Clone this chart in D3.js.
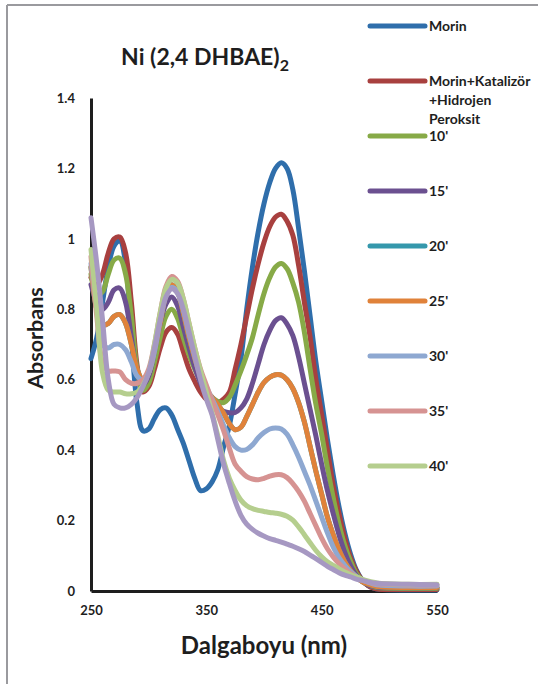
<!DOCTYPE html>
<html><head><meta charset="utf-8">
<script src="https://cdn.jsdelivr.net/npm/d3@7"></script>
<style>
body{margin:0;background:#fff;}
svg{display:block;font-family:Lato,"Open Sans",sans-serif;}
</style>
</head><body>
<svg id="chart" width="538" height="684"></svg>
<script>
const wavelengths=[250,255,260,265,270,275,280,285,290,295,300,305,310,315,320,325,330,335,340,345,350,355,360,365,370,375,380,385,390,395,400,405,410,415,420,425,430,435,440,445,450,455,460,465,470,475,480,485,490,495,500,525,550];

const morin=[0.66,0.72,0.82,0.92,0.98,0.995,0.93,0.72,0.53,0.455,
0.46,0.49,0.515,0.52,0.50,0.46,0.42,0.37,0.32,0.285,
0.29,0.31,0.345,0.41,0.47,0.56,0.66,0.80,0.92,1.02,
1.10,1.16,1.20,1.216,1.20,1.14,1.03,0.91,0.78,0.65,
0.54,0.43,0.33,0.24,0.165,0.105,0.06,0.032,0.016,0.008,
0.005,0.003,0.003];

const morinKatHP=[0.89,0.87,0.90,0.96,1.0,1.005,0.96,0.82,0.64,0.565,
0.58,0.63,0.69,0.735,0.748,0.73,0.68,0.63,0.595,0.565,
0.545,0.537,0.534,0.545,0.565,0.63,0.70,0.78,0.86,0.93,
0.99,1.035,1.062,1.07,1.05,1.01,0.925,0.82,0.72,0.60,
0.50,0.40,0.30,0.22,0.15,0.095,0.057,0.031,0.016,0.008,
0.005,0.004,0.004];

const min10=[0.90,0.84,0.85,0.90,0.94,0.945,0.90,0.78,0.63,0.57,
0.59,0.65,0.72,0.78,0.80,0.775,0.72,0.67,0.63,0.595,
0.565,0.55,0.538,0.535,0.55,0.585,0.625,0.67,0.72,0.785,
0.845,0.89,0.92,0.93,0.915,0.875,0.82,0.735,0.63,0.53,
0.445,0.35,0.265,0.19,0.13,0.085,0.05,0.03,0.018,0.012,
0.009,0.007,0.007];

const min15=[0.87,0.82,0.80,0.82,0.855,0.86,0.82,0.72,0.62,0.585,
0.61,0.68,0.76,0.815,0.835,0.81,0.75,0.69,0.635,0.59,
0.555,0.53,0.52,0.51,0.506,0.507,0.52,0.545,0.59,0.645,
0.70,0.74,0.768,0.776,0.758,0.725,0.665,0.59,0.515,0.44,
0.36,0.285,0.22,0.16,0.11,0.072,0.045,0.028,0.018,0.013,
0.01,0.009,0.009];

const min20=[0.92,0.80,0.755,0.76,0.78,0.785,0.76,0.70,0.63,0.60,
0.62,0.68,0.76,0.84,0.87,0.85,0.79,0.72,0.66,0.61,
0.57,0.55,0.53,0.505,0.475,0.458,0.465,0.495,0.53,0.565,
0.592,0.607,0.614,0.613,0.60,0.575,0.535,0.48,0.41,0.34,
0.275,0.21,0.16,0.117,0.083,0.058,0.04,0.027,0.02,0.015,
0.012,0.01,0.01];

const min25=[0.92,0.80,0.755,0.76,0.78,0.785,0.76,0.70,0.63,0.60,
0.62,0.68,0.76,0.84,0.87,0.85,0.79,0.72,0.66,0.61,
0.57,0.55,0.53,0.505,0.475,0.458,0.465,0.495,0.53,0.565,
0.592,0.607,0.614,0.613,0.60,0.575,0.535,0.48,0.41,0.34,
0.275,0.21,0.16,0.117,0.083,0.058,0.04,0.027,0.02,0.015,
0.012,0.01,0.01];

const min30=[0.93,0.80,0.70,0.69,0.70,0.70,0.685,0.65,0.61,0.60,
0.62,0.68,0.77,0.84,0.862,0.85,0.80,0.73,0.67,0.62,
0.58,0.545,0.51,0.47,0.435,0.41,0.40,0.402,0.415,0.435,
0.45,0.46,0.463,0.46,0.445,0.415,0.38,0.34,0.30,0.255,
0.21,0.165,0.125,0.095,0.073,0.055,0.042,0.032,0.025,0.02,
0.017,0.014,0.014];

const min35=[0.95,0.78,0.65,0.625,0.625,0.622,0.60,0.59,0.59,0.60,
0.63,0.70,0.79,0.865,0.893,0.88,0.83,0.76,0.69,0.63,
0.585,0.54,0.50,0.455,0.405,0.36,0.34,0.325,0.318,0.316,
0.32,0.326,0.33,0.33,0.322,0.305,0.283,0.255,0.22,0.185,
0.15,0.12,0.097,0.078,0.063,0.05,0.04,0.032,0.026,0.022,
0.02,0.017,0.017];

const min40=[0.97,0.80,0.62,0.57,0.565,0.565,0.56,0.56,0.565,0.585,
0.62,0.70,0.79,0.86,0.885,0.875,0.83,0.76,0.69,0.625,
0.565,0.505,0.44,0.37,0.32,0.285,0.258,0.242,0.234,0.229,
0.226,0.223,0.221,0.218,0.212,0.201,0.182,0.16,0.137,0.115,
0.097,0.083,0.073,0.063,0.054,0.046,0.04,0.034,0.029,0.025,
0.022,0.019,0.019];

const min45=[1.06,0.93,0.77,0.60,0.53,0.52,0.52,0.53,0.55,0.58,
0.62,0.69,0.77,0.835,0.858,0.845,0.80,0.735,0.665,0.60,
0.545,0.50,0.43,0.36,0.305,0.255,0.215,0.19,0.175,0.164,
0.156,0.149,0.144,0.139,0.133,0.127,0.12,0.112,0.102,0.092,
0.081,0.07,0.061,0.052,0.045,0.04,0.034,0.03,0.026,0.023,
0.021,0.019,0.018];

const seriesNames=["Morin","Morin+Katalizör\n+Hidrojen\nPeroksit","10'","15'","20'","25'","30'","35'","40'","45'"];
const seriesValues=[morin,morinKatHP,min10,min15,min20,min25,min30,min35,min40,min45];
const seriesColors=["#2F6EAB","#A8403F","#87AA47","#6B5090","#3598AC","#E0823A","#8EA8D1","#D69392","#B5CE8E","#A698C2"];
const legendCount=9; // legend area shows the first nine entries

const xTicks=[250,350,450,550];
const yTicks=[0,0.2,0.4,0.6,0.8,1,1.2,1.4];
const yTickLabels=["0","0.2","0.4","0.6","0.8","1","1.2","1.4"];

const svg=d3.select("#chart");
const textColor="#1e1e1e";

// outer frame (top and left visible)
svg.append("line").attr("x1",7).attr("x2",538).attr("y1",5).attr("y2",5).attr("stroke","#9a9a9e").attr("stroke-width",2);
svg.append("line").attr("x1",7).attr("x2",7).attr("y1",5).attr("y2",684).attr("stroke","#9a9a9e").attr("stroke-width",2);

const x=d3.scaleLinear().domain([250,550]).range([91,437]);
const y=d3.scaleLinear().domain([0,1.4]).range([591,98]);

// axes
const xAxis=svg.append("g").attr("transform","translate(0,591)")
  .call(d3.axisBottom(x).tickValues(xTicks).tickSize(0).tickSizeOuter(0).tickPadding(15).tickFormat(d3.format("d")));
const yAxis=svg.append("g").attr("transform","translate(91,0)")
  .call(d3.axisLeft(y).tickValues(yTicks).tickSize(0).tickSizeOuter(0).tickPadding(16).tickFormat((d,i)=>yTickLabels[i]));
[xAxis,yAxis].forEach(g=>{
  g.select(".domain").attr("stroke","#1e1e1e").attr("stroke-width",3);
  g.selectAll("text").attr("fill",textColor).attr("font-size",13).attr("font-weight","bold").attr("font-family","Lato, sans-serif");
});

// curves
const line=d3.line().x((d,i)=>x(wavelengths[i])).y(d=>y(d)).curve(d3.curveCatmullRom.alpha(0.5));
svg.append("g").selectAll("path").data(seriesValues).join("path")
  .attr("d",d=>line(d))
  .attr("fill","none")
  .attr("stroke",(d,i)=>seriesColors[i])
  .attr("stroke-width",5)
  .attr("stroke-linecap","round")
  .attr("stroke-linejoin","round");

// title
const title=svg.append("text").attr("x",205).attr("y",65).attr("text-anchor","middle")
  .attr("fill",textColor).attr("font-size",23).attr("font-weight","bold");
title.append("tspan").text("Ni (2,4 DHBAE)");
title.append("tspan").attr("dy",6).attr("font-size",16).text("2");

// axis titles
svg.append("text").attr("x",264).attr("y",654).attr("text-anchor","middle")
  .attr("fill",textColor).attr("font-size",24).attr("font-weight","bold").text("Dalgaboyu (nm)");
svg.append("text").attr("transform","translate(43,338) rotate(-90)").attr("text-anchor","middle")
  .attr("fill",textColor).attr("font-size",21.5).attr("font-weight","bold").text("Absorbans");

// legend
const legend=svg.append("g");
for(let i=0;i<legendCount;i++){
  const ly=26+i*55;
  legend.append("line").attr("x1",370).attr("x2",425).attr("y1",ly).attr("y2",ly)
    .attr("stroke",seriesColors[i]).attr("stroke-width",5).attr("stroke-linecap","round");
  const t=legend.append("text").attr("x",429).attr("y",ly)
    .attr("fill",textColor).attr("font-size",14).attr("font-weight","bold");
  seriesNames[i].split("\n").forEach((s,j)=>{
    t.append("tspan").attr("x",429).attr("dy",j===0?"0.36em":19).text(s);
  });
}
</script>
</body></html>
